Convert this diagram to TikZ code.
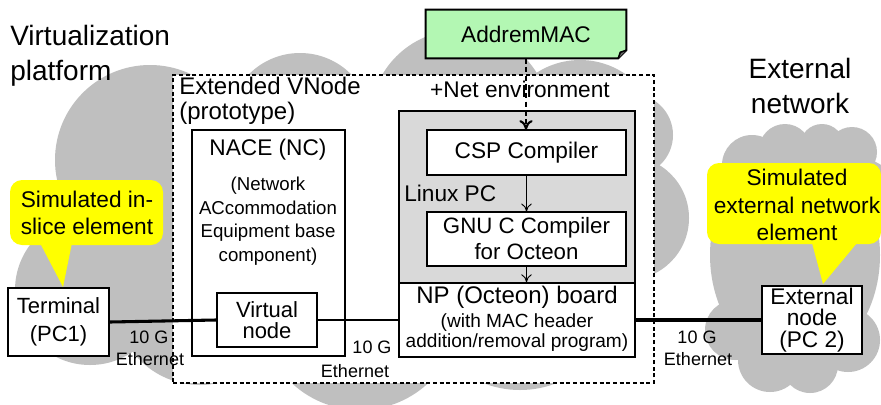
\documentclass[tikz,border=0pt]{standalone}
\usepackage{fontspec}
\setmainfont{Liberation Sans}
\usetikzlibrary{arrows.meta,fit}
\definecolor{cloudgray}{HTML}{BFBFBF}
\definecolor{pcgray}{HTML}{D9D9D9}
\definecolor{notegreen}{HTML}{B3F7B3}
\definecolor{calloutyellow}{HTML}{FFFF00}
\begin{document}
\begin{tikzpicture}[x=0.75pt,y=-0.75pt,
  f21/.style={font=\fontsize{21}{26}\selectfont},
  f18/.style={font=\fontsize{18}{19}\selectfont},
  f17/.style={font=\fontsize{17}{20}\selectfont},
  f14/.style={font=\fontsize{14}{17.6}\selectfont},
  f13/.style={font=\fontsize{13.5}{16}\selectfont},
  boxnode/.style={draw=black, line width=1.5pt, fill=white, inner sep=0pt},
  thinbox/.style={draw=black, line width=0.8pt, fill=white, inner sep=0pt},
  plain/.style={inner sep=0pt},
  thinarrow/.style={line width=0.7pt, -{To[length=6pt,width=8pt]}},
  cloud/.style={fill=cloudgray, draw=none}
]
\useasboundingbox (0,0) rectangle (881,404);
\fill[white] (0,0) rectangle (881,404);

% ---- left cloud ----
\fill[cloud] (350,220) ellipse [x radius=270, y radius=120];
\fill[cloud] (150,160) circle [radius=95];
\fill[cloud] (300,125) circle [radius=72];
\fill[cloud] (460,120) circle [radius=90];
\fill[cloud] (580,140) circle [radius=80];
\fill[cloud] (632,135) circle [radius=41];
\fill[cloud] (627,218) circle [radius=62];
\fill[cloud] (90,290) circle [radius=75];
\fill[cloud] (200,300) circle [radius=85];
\fill[cloud] (360,310) circle [radius=100];
\fill[cloud] (520,290) circle [radius=100];

% ---- right cloud ----
\fill[cloud] (795,255) ellipse [x radius=85, y radius=110];
\fill[cloud] (752,165) circle [radius=30];
\fill[cloud] (785,150) circle [radius=26];
\fill[cloud] (822,146) circle [radius=22];
\fill[cloud] (852,152) circle [radius=25];
\fill[cloud] (866,185) circle [radius=25];
\fill[cloud] (735,330) circle [radius=30];
\fill[cloud] (770,360) circle [radius=32];
\fill[cloud] (810,365) circle [radius=28];
\fill[cloud] (848,340) circle [radius=32];

% ---- extended VNode dashed box ----
\node[draw=black, line width=0.8pt, dash pattern=on 3pt off 2pt, fill=white, inner sep=0pt,
      fit={(173,75) (654,383)}] (vnode) {};

% ---- NACE ----
\node[boxnode, fit={(192,130) (345,356)}] (nace) {};
\node[f17, plain] (nacetitle) at (268,150) {NACE (NC)};
\node[f14, plain, align=center] (nacedesc) at (268,221) {(Network\\ACcommodation\\Equipment base\\component)};

% ---- Linux PC & NP board ----
\node[draw=black, line width=1.2pt, fill=pcgray, inner sep=0pt, fit={(399,111) (635,283)}] (linux) {};
\node[draw=black, line width=1.2pt, fill=white, inner sep=0pt, fit={(399,283) (635,357)}] (np) {};
\node[f18, plain] (nptitle) at (517,297) {NP (Octeon) board};
\node[plain, align=center, font=\fontsize{14.3}{15}\selectfont] (npdesc) at (517,333) {(with MAC header\\addition/removal program)};
\node[f17, plain, anchor=west] (linuxlabel) at (404,193) {Linux PC};

\node[thinbox, fit={(427,130) (626,175)}] (csp) {};
\node[f17, plain] at (csp.center) {CSP Compiler};
\node[thinbox, fit={(427,212) (626,266)}] (gnu) {};
\node[plain, align=center, font=\fontsize{16.7}{19.5}\selectfont] at (gnu.center) {GNU C Compiler\\for Octeon};

\draw[thinarrow] (csp.south) -- (gnu.north);
\draw[thinarrow] (gnu.south) -- (np.north -| gnu.south);

% ---- AddremMAC ----
\node[plain, fit={(426,10) (626,58)}] (addrem) {};
\filldraw[fill=notegreen, draw=black, line width=1.5pt]
  (addrem.north west) -- (addrem.north east) -- ([yshift=6pt]addrem.south east)
  -- ([xshift=-6pt]addrem.south east) -- (addrem.south west) -- cycle;
\draw[line width=1.2pt, fill=black!60] ([xshift=-6pt]addrem.south east) -- ([xshift=-4.5pt,yshift=4.5pt]addrem.south east) -- ([yshift=6pt]addrem.south east);
\node[f17, plain] at (addrem.center) {AddremMAC};
\node[f17, plain] (netenv) at (520,89) {+Net environment};
\draw[line width=1.6pt, dash pattern=on 4pt off 2.5pt, -{To[length=7pt,width=10pt]}] (addrem.south) -- (csp.north -| addrem.south);

% ---- titles ----
\node[f21, plain, align=left, anchor=west] (vplat) at (10,56) {Virtualization\\platform};
\node[f21, plain, align=center] (extnet) at (800,86) {External\\network};
\node[f18, plain, align=left, anchor=west] (evn) at (179,101) {Extended VNode\\(prototype)};

% ---- terminal / virtual node / external node ----
\node[boxnode, fit={(8,288) (109,356)}] (term) {};
\node[plain, align=center, font=\fontsize{16.5}{21}\selectfont] at (term.center) {Terminal\\(PC1)};
\node[boxnode, fit={(217,293) (317,347)}] (vn) {};
\node[plain, align=center, font=\fontsize{16.5}{16}\selectfont] at (vn.center) {Virtual\\node};
\node[boxnode, fit={(762,286) (862,354)}] (ext) {};
\node[plain, align=center, font=\fontsize{17}{16}\selectfont] at (ext.center) {External\\node\\(PC 2)};

% ---- callouts ----
\fill[calloutyellow, rounded corners=9pt] (10,180) rectangle (163,245);
\fill[calloutyellow] (40,243) -- (72,243) -- (63,287) -- cycle;
\node[plain, align=center, font=\fontsize{17}{20}\selectfont] (call1) at (87,213) {Simulated in-\\slice element};
\fill[calloutyellow, rounded corners=9pt] (707,163) rectangle (881,244);
\fill[calloutyellow] (812,243) -- (857,243) -- (823,284) -- cycle;
\node[plain, align=center, font=\fontsize{17}{20.5}\selectfont] (call2) at (797,205) {Simulated\\external network\\element};

% ---- links ----
\draw[line width=2.3pt] (term.east) -- (vn.west);
\draw[line width=1.6pt] (vn.east) -- (np.west);
\draw[line width=2.3pt] (np.east) -- (ext.west);

\node[f13, plain] (l1a) at (149,337) {10 G};
\node[f13, plain] (l1b) at (150,359) {Ethernet};
\node[f13, plain] (l2a) at (372,347) {10 G};
\node[f13, plain] (l2b) at (355,371) {Ethernet};
\node[f13, plain] (l3a) at (697,337) {10 G};
\node[f13, plain] (l3b) at (698,359) {Ethernet};
\end{tikzpicture}
\end{document}
